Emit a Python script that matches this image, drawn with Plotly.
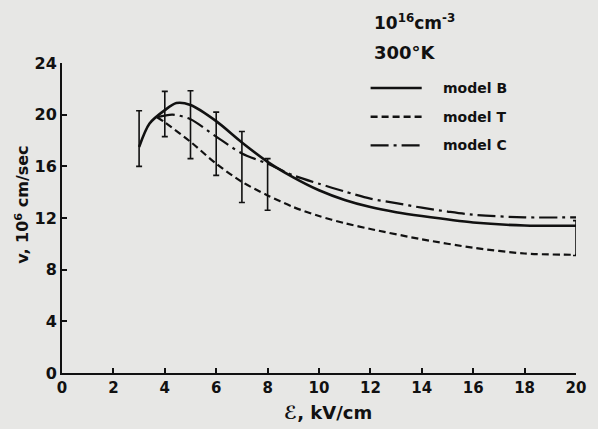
import plotly.graph_objects as go

# ---- data ----
b_x = [3, 3.4, 4, 4.45, 5, 6, 7, 8, 9, 10, 11, 12, 13, 14, 16, 18, 20]
b_y = [17.5, 19.3, 20.35, 20.9, 20.75, 19.5, 17.85, 16.35, 15.15, 14.15, 13.4, 12.85, 12.45, 12.15, 11.65, 11.42, 11.4]

t_x = [3.7, 4, 5, 6, 7, 8, 9, 10, 11, 12, 14, 16, 18, 20]
t_y = [19.8, 19.4, 17.9, 16.2, 14.8, 13.75, 12.85, 12.15, 11.6, 11.15, 10.35, 9.7, 9.25, 9.15]

c_x = [3.7, 4.3, 5, 6, 7, 8, 9, 10, 11, 12, 13, 14, 15, 16, 18, 20]
c_y = [19.8, 20.0, 19.65, 18.3, 17.0, 16.2, 15.3, 14.65, 14.05, 13.5, 13.15, 12.8, 12.5, 12.25, 12.05, 12.05]

err_x = [3, 4, 5, 6, 7, 8, 20]
err_lo = [16.0, 18.3, 16.6, 15.3, 13.2, 12.6, 9.1]
err_hi = [20.3, 21.8, 21.85, 20.2, 18.7, 16.6, 11.8]

x_ticks = [0, 2, 4, 6, 8, 10, 12, 14, 16, 18, 20]
y_ticks = [0, 4, 8, 12, 16, 20, 24]

series_names = ["model B", "model T", "model C"]
series_dash = ["solid", "7px,4px", "18px,5px,3px,5px"]

FONT = "DejaVu Sans"
BG = "#e7e7e5"
INK = "#111111"

fig = go.Figure()

for name, xs, ys, dash, w in [
    (series_names[0], b_x, b_y, series_dash[0], 2.6),
    (series_names[1], t_x, t_y, series_dash[1], 2.2),
    (series_names[2], c_x, c_y, series_dash[2], 2.2),
]:
    fig.add_trace(go.Scatter(
        x=xs, y=ys, mode="lines", name=name,
        line=dict(color=INK, width=w, dash=dash, shape="spline", smoothing=0.8),
        showlegend=False, cliponaxis=False,
    ))

fig.add_trace(go.Scatter(
    x=err_x, y=err_lo, mode="markers",
    marker=dict(size=1, color="rgba(0,0,0,0)"),
    error_y=dict(type="data", symmetric=False,
                 array=[h - l for h, l in zip(err_hi, err_lo)],
                 arrayminus=[0] * len(err_lo),
                 color=INK, thickness=1.6, width=3),
    showlegend=False, cliponaxis=False,
))

L, R, T, B = 62, 13, 63, 56
W, H = 598, 429
pw, ph = W - L - R, H - T - B


def px_x(p):
    return (p - L) / pw


def px_y(p):
    return (H - B - p) / ph


def bold(size):
    return dict(family=FONT, size=size, color=INK, weight="bold")


# legend samples and labels
shapes = []
annotations = []
for i, (name, dash) in enumerate(zip(series_names, series_dash)):
    yy = px_y(88 + i * 28.7)
    shapes.append(dict(type="line", xref="paper", yref="paper",
                       x0=px_x(376), x1=px_x(428), y0=yy, y1=yy,
                       line=dict(color=INK, width=2.4, dash=dash)))
    annotations.append(dict(xref="paper", yref="paper", x=px_x(448), y=yy,
                            xanchor="left", yanchor="middle", showarrow=False,
                            text=name, font=bold(14)))

annotations.append(dict(xref="paper", yref="paper", x=px_x(377), y=px_y(22),
                        xanchor="left", yanchor="middle", showarrow=False,
                        text="10<sup>16</sup>cm<sup>-3</sup>", font=bold(17)))
annotations.append(dict(xref="paper", yref="paper", x=px_x(377), y=px_y(52),
                        xanchor="left", yanchor="middle", showarrow=False,
                        text="300°K", font=bold(18)))
annotations.append(dict(xref="paper", yref="paper", x=px_x(333), y=px_y(413),
                        xanchor="center", yanchor="middle", showarrow=False,
                        text="ℰ, kV/cm", font=bold(18)))
annotations.append(dict(xref="paper", yref="paper", x=px_x(22), y=px_y(205),
                        xanchor="center", yanchor="middle", showarrow=False,
                        textangle=-90,
                        text="v, 10<sup>6</sup> cm/sec", font=bold(16)))

fig.update_layout(
    width=W, height=H,
    margin=dict(l=L, r=R, t=T, b=B, pad=0),
    paper_bgcolor=BG, plot_bgcolor=BG,
    showlegend=False,
    shapes=shapes, annotations=annotations,
    font=bold(16),
)
fig.update_xaxes(range=[0, 20], tickvals=x_ticks, ticktext=[str(v) for v in x_ticks],
                 showgrid=False, zeroline=False, showline=True, linecolor=INK, linewidth=2,
                 ticks="inside", ticklen=5, tickwidth=1.5, tickcolor=INK,
                 tickfont=bold(15))
fig.update_yaxes(range=[0, 24], tickvals=y_ticks, ticktext=[str(v) for v in y_ticks],
                 showgrid=False, zeroline=False, showline=True, linecolor=INK, linewidth=2,
                 ticks="inside", ticklen=5, tickwidth=1.5, tickcolor=INK,
                 tickfont=bold(16))

fig.write_html("out.html")
